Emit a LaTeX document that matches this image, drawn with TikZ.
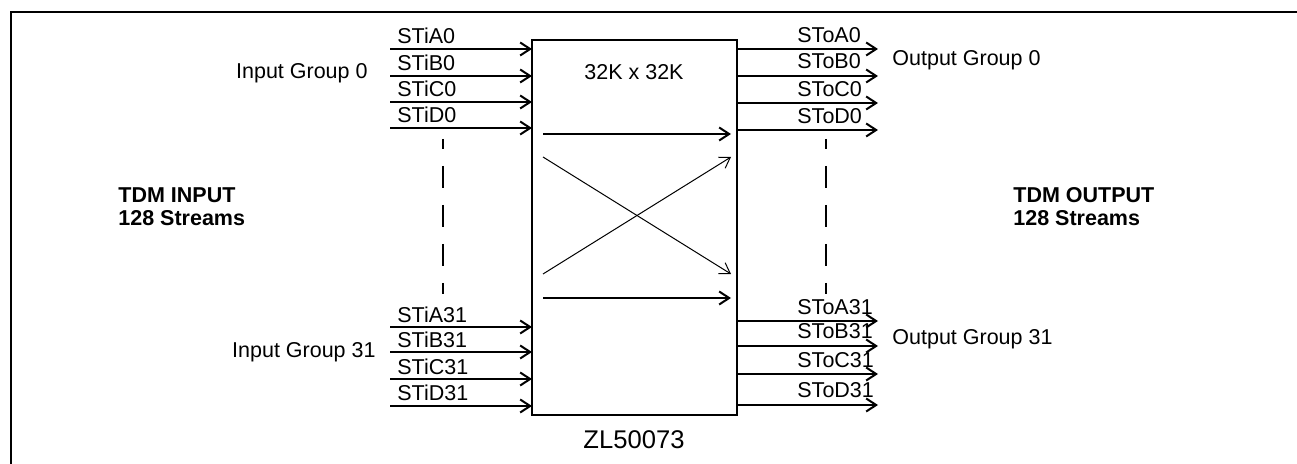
\documentclass[tikz,border=0pt]{standalone}
\usepackage{fontspec}
\setmainfont{Liberation Sans}
\usetikzlibrary{arrows.meta}

\begin{document}
\begin{tikzpicture}[x=0.5pt, y=-0.5pt,
    lbl/.style={font=\fontsize{10.75}{12}\selectfont, inner sep=0pt},
    sig/.style={lbl, anchor=base west},
    grp/.style={align=left, inner sep=0pt, anchor=west, font=\fontsize{10.75}{11.5}\selectfont\bfseries},
    switchbox/.style={draw, line width=1pt, minimum width=102.5pt, minimum height=187.5pt, inner sep=0pt, outer sep=0pt, anchor=north west},
    arr/.style={-{Straight Barb[length=5pt,width=6.5pt]}, line width=1pt},
    xarr/.style={-{Straight Barb[length=5pt,width=6.5pt]}, line width=0.5pt},
    vdash/.style={line width=1pt, dash pattern=on 11pt off 8.5pt, dash phase=6pt}
]
\useasboundingbox (0,0) rectangle (1297,464);
% outer frame
\draw[line width=1pt] (11,464) -- (11,12) -- (1297,12);

% switch
\node[switchbox] (sw) at (532,40) {};
\node[lbl, anchor=center] (size) at (634,72) {32K x 32K};
\node[font=\fontsize{12.8}{14}\selectfont, inner sep=0pt] (part) at (634,440) {ZL50073};

% input group 0
\coordinate (ia0) at (390,49);
\coordinate (ib0) at (390,76);
\coordinate (ic0) at (390,102);
\coordinate (id0) at (390,128);
\draw[arr] (ia0) -- (ia0 -| sw.west);
\draw[arr] (ib0) -- (ib0 -| sw.west);
\draw[arr] (ic0) -- (ic0 -| sw.west);
\draw[arr] (id0) -- (id0 -| sw.west);
\node[sig] (lia0) at (397,44) {STiA0};
\node[sig] (lib0) at (397,71) {STiB0};
\node[sig] (lic0) at (397,97) {STiC0};
\node[sig] (lid0) at (397,123) {STiD0};
\node[lbl, anchor=east] (ingrp0) at (368,73) {Input Group 0};

% input group 31
\coordinate (ia31) at (390,327);
\coordinate (ib31) at (390,352);
\coordinate (ic31) at (390,379);
\coordinate (id31) at (390,406);
\draw[arr] (ia31) -- (ia31 -| sw.west);
\draw[arr] (ib31) -- (ib31 -| sw.west);
\draw[arr] (ic31) -- (ic31 -| sw.west);
\draw[arr] (id31) -- (id31 -| sw.west);
\node[sig] (lia31) at (397,323) {STiA31};
\node[sig] (lib31) at (397,348) {STiB31};
\node[sig] (lic31) at (397,375) {STiC31};
\node[sig] (lid31) at (397,401) {STiD31};
\node[lbl, anchor=east] (ingrp31) at (376,352) {Input Group 31};

% output group 0
\coordinate (oa0) at (878,49);
\coordinate (ob0) at (878,76);
\coordinate (oc0) at (878,103);
\coordinate (od0) at (878,130);
\draw[arr] (oa0 -| sw.east) -- (oa0);
\draw[arr] (ob0 -| sw.east) -- (ob0);
\draw[arr] (oc0 -| sw.east) -- (oc0);
\draw[arr] (od0 -| sw.east) -- (od0);
\node[sig] (loa0) at (797,43) {SToA0};
\node[sig] (lob0) at (797,69) {SToB0};
\node[sig] (loc0) at (797,97) {SToC0};
\node[sig] (lod0) at (797,124) {SToD0};
\node[lbl, anchor=west] (outgrp0) at (892,60) {Output Group 0};

% output group 31
\coordinate (oa31) at (878,321);
\coordinate (ob31) at (878,346);
\coordinate (oc31) at (878,374);
\coordinate (od31) at (878,405);
\draw[arr] (oa31 -| sw.east) -- (oa31);
\draw[arr] (ob31 -| sw.east) -- (ob31);
\draw[arr] (oc31 -| sw.east) -- (oc31);
\draw[arr] (od31 -| sw.east) -- (od31);
\node[sig] (loa31) at (797,315) {SToA31};
\node[sig] (lob31) at (797,339) {SToB31};
\node[sig] (loc31) at (797,368) {SToC31};
\node[sig] (lod31) at (797,398) {SToD31};
\node[lbl, anchor=west] (outgrp31) at (892,339) {Output Group 31};

% paths through the switch
\coordinate (p1) at (543,134);
\coordinate (p2) at (731,134);
\coordinate (p3) at (543,157);
\coordinate (p4) at (731,157);
\coordinate (p5) at (543,274);
\coordinate (p6) at (731,274);
\coordinate (p7) at (543,298);
\coordinate (p8) at (731,298);
\draw[arr] (p1) -- (p2);
\draw[xarr] (p3) -- (p6);
\draw[xarr] (p5) -- (p4);
\draw[arr] (p7) -- (p8);

% dashed continuation
\coordinate (dl1) at (443,139);
\coordinate (dl2) at (443,294);
\coordinate (dr1) at (826,139);
\coordinate (dr2) at (826,294);
\draw[vdash] (dl1) -- (dl2);
\draw[vdash] (dr1) -- (dr2);

% stream totals
\node[grp] (tdmin) at (118,207) {TDM INPUT\\128 Streams};
\node[grp] (tdmout) at (1013,207) {TDM OUTPUT\\128 Streams};
\end{tikzpicture}
\end{document}
